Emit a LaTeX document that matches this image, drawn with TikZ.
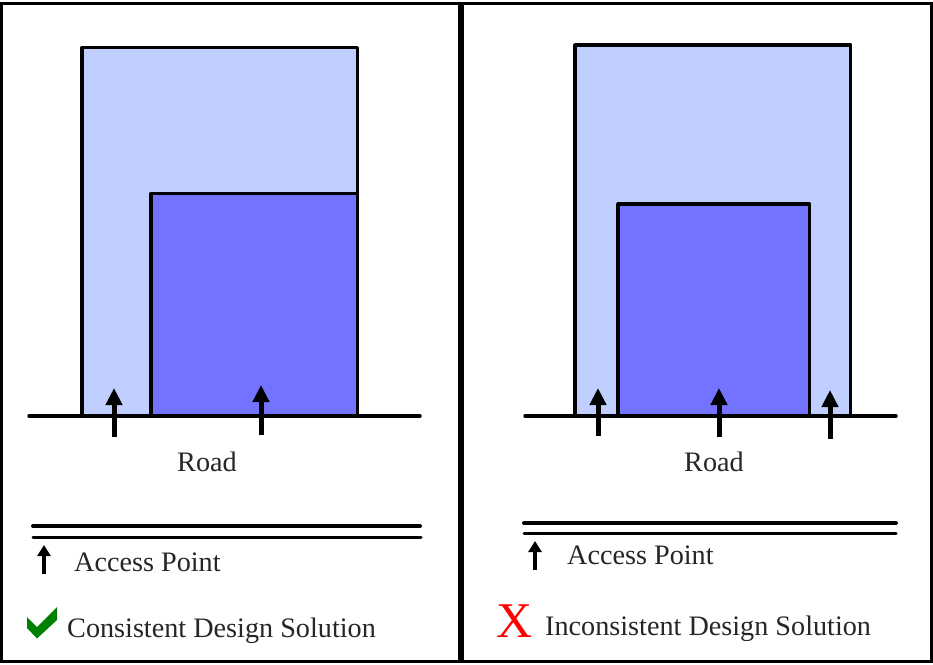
\documentclass[tikz,border=0pt]{standalone}
\usepackage{fontspec}
\setmainfont{Liberation Serif}
\usetikzlibrary{arrows.meta}
\definecolor{lightblue}{HTML}{C0CFFF}
\definecolor{darkblue}{HTML}{7373FF}
\definecolor{checkgreen}{HTML}{008000}
\tikzset{
  x=1pt,y=-1pt,
  house/.style={draw=black,line width=3.2pt,line join=round},
  road/.style={draw=black,line width=3.5pt,line cap=round},
  thinrule/.style={draw=black,line width=3pt,line cap=round},
  thickrule/.style={draw=black,line width=4pt,line cap=round},
  access/.style={draw=black,line width=5pt,-{Triangle[length=17pt,width=16pt]}},
  legendaccess/.style={draw=black,line width=4pt,-{Triangle[length=11pt,width=13pt]}},
  label/.style={font=\fontsize{28.2}{32}\selectfont,text=black!85,inner sep=0pt,anchor=base west},
}
\begin{document}
\begin{tikzpicture}
\useasboundingbox (0,0) rectangle (933,664);
\fill[white] (0,0) rectangle (933,664);
% left panel
\draw[house,fill=lightblue] (82,416) -- (82,47.5) -- (357.5,47.5) -- (357.5,416);
\draw[house,fill=darkblue] (151,416) -- (151,193.5) -- (357.5,193.5) -- (357.5,416);
\draw[road] (29,416) -- (420,416);
\draw[access] (114,437) -- (114,388);
\draw[access] (261,435) -- (261,385);
\node[label] (roadL) at (177,471) {Road};
\draw[thickrule] (33,526) -- (420,526);
\draw[thinrule] (33,537.5) -- (421,537.5);
\draw[legendaccess] (44,574) -- (44,545);
\node[label] (accessL) at (74,571) {Access Point};
\fill[checkgreen] (27,617) -- (37,627) -- (57,607) -- (57,620) -- (37,638.5) -- (27,628) -- cycle;
\node[label] (solL) at (67,637) {Consistent Design Solution};
% right panel
\draw[house,fill=lightblue] (575,416) -- (575,45) -- (850.5,45) -- (850.5,416);
\draw[house,fill=darkblue] (618,416) -- (618,204) -- (809.5,204) -- (809.5,416);
\draw[road] (525,416) -- (896,416);
\draw[access] (598,436) -- (598,388);
\draw[access] (719,437) -- (719,388);
\draw[access] (830,439) -- (830,390);
\node[label] (roadR) at (684,471) {Road};
\draw[thickrule] (524,523) -- (896,523);
\draw[thinrule] (524,533.5) -- (896,533.5);
\draw[legendaccess] (535,570) -- (535,541);
\node[label] (accessR) at (567,564) {Access Point};
\node[font=\fontsize{50}{50}\selectfont,text=red,inner sep=0pt,anchor=base west] (crossR) at (496,637) {X};
\node[label] (solR) at (545,635) {Inconsistent Design Solution};
% frame
\draw[black,line width=3pt] (1.5,3) -- (931.5,3) -- (931.5,661.5) -- (1.5,661.5) -- cycle;
\draw[black,line width=6pt] (461,3) -- (461,661);
\end{tikzpicture}
\end{document}
